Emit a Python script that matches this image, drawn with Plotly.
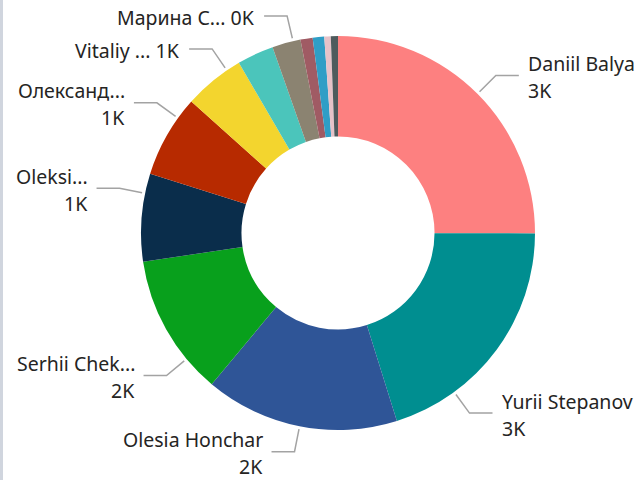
import math
import plotly.graph_objects as go

# Slice data (clockwise from 12 o'clock)
names = ["Daniil Balya", "Yurii Stepanov", "Olesia Honchar", "Serhii Chek...",
         "Oleksi...", "Олександ...", "Vitaliy ...", "Member 8", "Марина С...",
         "Member 10", "Member 11", "Member 12", "Member 13"]
values = [3350, 2695, 2129, 1552, 963, 905, 666, 402, 312, 134, 126, 71, 78]
colors = ["#FD8080", "#008E90", "#2F5597", "#08A01C", "#0A2D4B", "#B72A00",
          "#F3D52E", "#4BC5BB", "#8B8371", "#A05B64", "#2F9EC6", "#E6C2C8", "#4E5B5D"]

# Which slices get an outside label, and whether the value goes on its own line
labelled = ["Daniil Balya", "Yurii Stepanov", "Olesia Honchar", "Serhii Chek...",
            "Oleksi...", "Олександ...", "Vitaliy ...", "Марина С..."]
two_line = {"Daniil Balya", "Yurii Stepanov", "Olesia Honchar", "Serhii Chek...",
            "Oleksi...", "Олександ..."}
# leader-line angle nudges (degrees) applied to each slice's mid-angle
angle_nudge = {"Daniil Balya": 0, "Yurii Stepanov": 17.5, "Olesia Honchar": 0,
               "Serhii Chek...": -10.5, "Oleksi...": 7, "Олександ...": 6,
               "Vitaliy ...": 4.8, "Марина С...": 2}

W, H = 641, 480
CX, CY, R = 338, 233, 197
HOLE = 0.49
FONT = "Segoe UI, Noto Sans, sans-serif"
FONT_SIZE = 19.5
TEXT_COLOR = "#252423"
LINE_COLOR = "#A3A3A3"


def px(x):
    return x / W


def py(y):
    return 1 - y / H


def fmt_k(v):
    return f"{round(v / 1000):.0f}K"


fig = go.Figure(go.Pie(
    labels=names, values=values, sort=False, direction="clockwise", rotation=0,
    hole=HOLE, textinfo="none", hoverinfo="label+value",
    marker=dict(colors=colors, line=dict(width=0)),
    domain=dict(x=[px(CX - R), px(CX + R)], y=[py(CY + R), py(CY - R)]),
    showlegend=False,
))

total = sum(values)
cum = 0
mid_angle = {}
for n, v in zip(names, values):
    mid_angle[n] = (cum + v / 2) / total * 360
    cum += v

shapes = []
annotations = []
for n in labelled:
    v = values[names.index(n)]
    a = math.radians(mid_angle[n] + angle_nudge[n])
    s, c = math.sin(a), math.cos(a)
    x0, y0 = CX + (R + 3) * s, CY - (R + 3) * c
    x1, y1 = CX + 223 * s, CY - 223 * c
    right = s > 0
    x2 = x1 + (23 if right else -23)
    shapes.append(dict(
        type="path", xref="paper", yref="paper",
        path=f"M {px(x0)} {py(y0)} L {px(x1)} {py(y1)} L {px(x2)} {py(y1)}",
        line=dict(color=LINE_COLOR, width=1.5),
    ))
    tx = x2 + (8 if right else -8)
    anchor = "left" if right else "right"
    if n in two_line:
        lines = [(n, y1 - 12), (fmt_k(v), y1 + 15)]
    else:
        lines = [(f"{n} {fmt_k(v)}", y1 + 2)]
    for t, ty in lines:
        annotations.append(dict(
            text=t, x=px(tx), y=py(ty), xref="paper", yref="paper",
            xanchor=anchor, yanchor="middle", align=anchor, showarrow=False,
            borderpad=0,
            font=dict(family=FONT, size=FONT_SIZE, color=TEXT_COLOR),
        ))

# thin panel edge on the left
shapes.append(dict(type="rect", xref="paper", yref="paper",
                   x0=0, x1=px(3), y0=0, y1=1,
                   fillcolor="#D0D5DE", line=dict(width=0), layer="below"))

fig.update_layout(
    width=W, height=H, margin=dict(l=0, r=0, t=0, b=0),
    paper_bgcolor="white", plot_bgcolor="white",
    shapes=shapes, annotations=annotations,
)
fig.write_html("out.html")
